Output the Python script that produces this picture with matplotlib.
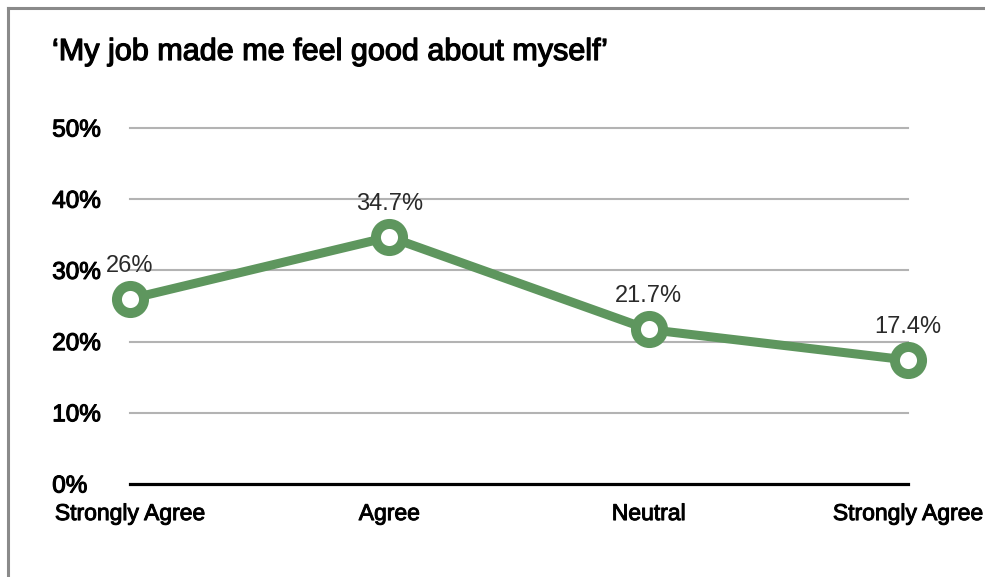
import numpy as np
import matplotlib.pyplot as plt
import matplotlib.patheffects as pe
from matplotlib.lines import Line2D

plt.rcParams['font.family'] = ['Liberation Sans', 'DejaVu Sans']

# data
categories = ['Strongly Agree', 'Agree', 'Neutral', 'Strongly Agree']
values = [26, 34.7, 21.7, 17.4]
value_labels = ['26%', '34.7%', '21.7%', '17.4%']
yticks = [0, 10, 20, 30, 40, 50]
ytick_labels = ['0%', '10%', '20%', '30%', '40%', '50%']
title = '\u2018My job made me feel good about myself\u2019'

green = '#5e965e'

def medium(w):
    # thicken regular glyphs a little, like a medium weight
    return [pe.withStroke(linewidth=w, foreground='black')]

fig = plt.figure(figsize=(9.85, 5.77), dpi=100)
W, H = 985, 577

# axes placement in pixels: x 0..3 -> 130..908, y 0 -> 484, 10 units = 71.2 px
ymax = 52
left, right = 130, 908
y0 = 484
top = y0 - ymax * 7.12
ax = fig.add_axes([left / W, 1 - y0 / H, (right - left) / W, (y0 - top) / H])

x = np.arange(len(categories))
ax.plot(x, values, color=green, lw=6.5, marker='o', ms=19.5, mew=7.2,
        mfc='white', mec=green, clip_on=False, zorder=5,
        solid_capstyle='round')

for xi, v, lab in zip(x, values, value_labels):
    ax.annotate(lab, (xi, v), xytext=(0, 24), textcoords='offset points',
                ha='center', va='center', fontsize=17, color='#2a2a2a',
                annotation_clip=False)

ax.set_xlim(0, 3)
ax.set_ylim(0, ymax)

ax.set_yticks(yticks)
ax.set_yticklabels(ytick_labels, fontsize=17.5, color='black', ha='left')
ax.tick_params(axis='y', length=0, pad=56)
for t in ax.get_yticklabels():
    t.set_path_effects(medium(0.8))
ax.set_xticks(x)
ax.set_xticklabels(categories, fontsize=16.5, color='black')
ax.tick_params(axis='x', length=0, pad=13)
for t in ax.get_xticklabels():
    t.set_path_effects(medium(0.7))

for t in yticks[1:]:
    ax.axhline(t, color='#b3b3b3', lw=1.5, zorder=1, clip_on=False)
ax.axhline(0, color='black', lw=2.3, zorder=2, clip_on=False)

for s in ax.spines.values():
    s.set_visible(False)
ax.set_facecolor('none')

fig.text(52 / W, 1 - 52 / H, title, fontsize=22, color='black',
         ha='left', va='center', path_effects=medium(0.9))

# outer frame (top and left edges)
fig.add_artist(Line2D([8 / W, 1], [1 - 8 / H, 1 - 8 / H], color='#8a8a8a', lw=2.2,
                      transform=fig.transFigure))
fig.add_artist(Line2D([8 / W, 8 / W], [0, 1 - 8 / H], color='#8a8a8a', lw=2.2,
                      transform=fig.transFigure))

fig.savefig('out.png', dpi=100)
